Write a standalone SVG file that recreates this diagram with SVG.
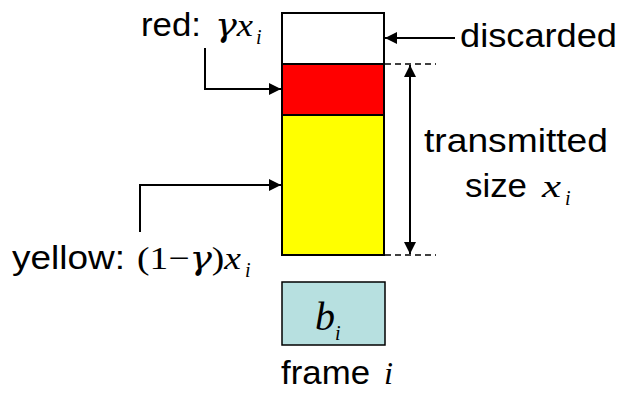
<svg xmlns="http://www.w3.org/2000/svg" width="624" height="397" viewBox="0 0 624 397">
<defs>
<style>
.t{font-family:"Liberation Sans",Arial,sans-serif;font-size:33px;fill:#000}
.m{font-family:"Liberation Serif","Times New Roman",serif;font-size:32px;fill:#000}
.i{font-style:italic}
.g{font-family:"DejaVu Serif",serif;font-style:italic}
.sub{font-family:"Liberation Serif","Times New Roman",serif;font-style:italic;font-size:20px;fill:#000}
.ln{stroke:#000;stroke-width:2;fill:none}
.dash{stroke:#000;stroke-width:1.5;stroke-dasharray:6,4;fill:none}
.box{stroke:#000;stroke-width:2}
</style>
<marker id="ah" viewBox="0 0 10 10" refX="10" refY="5" markerWidth="14" markerHeight="12" markerUnits="userSpaceOnUse" orient="auto-start-reverse">
<path d="M0,0 L10,5 L0,10 z" fill="#000"/>
</marker>
</defs>
<g id="stack">
<rect class="box" x="282" y="13" width="102" height="51" fill="#ffffff"/>
<rect class="box" x="282" y="64" width="102" height="51" fill="#ff0000"/>
<rect class="box" x="282" y="115" width="102" height="140" fill="#ffff00"/>
</g>
<g id="frame-box">
<rect x="282" y="282" width="103" height="63" fill="#b7e0e0" stroke="#000" stroke-width="1.5"/>
<text x="315" y="330" class="m i" style="font-size:39px" textLength="20" lengthAdjust="spacingAndGlyphs">b</text>
<text x="335" y="340" class="sub">i</text>
</g>
<g id="label-red">
<text x="141" y="36" class="t" textLength="60" lengthAdjust="spacingAndGlyphs">red:</text>
<text x="215" y="36" class="m i" textLength="38" lengthAdjust="spacingAndGlyphs"><tspan class="g">γ</tspan>x</text>
<text x="256" y="44" class="sub">i</text>
</g>
<g id="label-discarded">
<text x="460" y="47" class="t" textLength="157" lengthAdjust="spacingAndGlyphs">discarded</text>
</g>
<g id="label-transmitted">
<text x="424" y="152" class="t" textLength="184" lengthAdjust="spacingAndGlyphs">transmitted</text>
<text x="465" y="197" class="t" textLength="62" lengthAdjust="spacingAndGlyphs">size</text>
<text x="542" y="197" class="m i" textLength="19" lengthAdjust="spacingAndGlyphs">x</text>
<text x="565" y="205" class="sub">i</text>
</g>
<g id="label-yellow">
<text x="12" y="269" class="t" textLength="113" lengthAdjust="spacingAndGlyphs">yellow:</text>
<text x="137" y="269" class="m" textLength="104" lengthAdjust="spacingAndGlyphs">(1−<tspan class="g">γ</tspan>)<tspan class="i">x</tspan></text>
<text x="245" y="277" class="sub">i</text>
</g>
<g id="label-frame">
<text x="281" y="384" class="t" textLength="89" lengthAdjust="spacingAndGlyphs">frame</text>
<text x="384" y="384" class="m i" textLength="9" lengthAdjust="spacingAndGlyphs">i</text>
</g>
<g id="connectors">
<path class="ln" d="M205,48 V89 H281" marker-end="url(#ah)"/>
<path class="ln" d="M140,232 V185 H281" marker-end="url(#ah)"/>
<path class="ln" d="M455,38 H385" marker-end="url(#ah)"/>
<path class="ln" d="M410,65 V254" marker-start="url(#ah)" marker-end="url(#ah)"/>
<path class="dash" d="M385,64 H436 M385,255 H436"/>
</g>
</svg>
